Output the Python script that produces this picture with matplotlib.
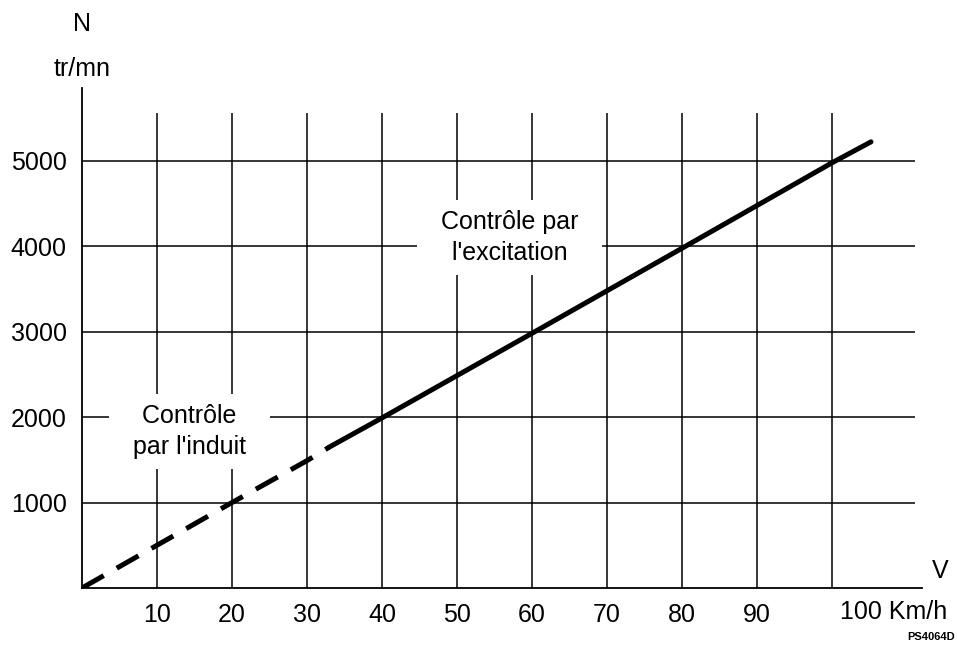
import matplotlib.pyplot as plt

plt.rcParams['font.family'] = ['Liberation Sans', 'DejaVu Sans']

# motor speed vs vehicle speed
speed_armature = [0, 20, 30, 33]                 # km/h, armature control (dashed)
rpm_armature   = [0, 1000, 1490, 1650]
speed_field    = [33, 40, 60, 80, 100, 105.2]    # km/h, field control (solid)
rpm_field      = [1650, 1990, 2980, 3975, 4975, 5220]

x_ticks  = [10, 20, 30, 40, 50, 60, 70, 80, 90]
x_grid   = [10, 20, 30, 40, 50, 60, 70, 80, 90, 100]
y_ticks  = [1000, 2000, 3000, 4000, 5000]
y_labels = ['1000', '2000', '3000', '4000', '5000']

fig = plt.figure(figsize=(9.57, 6.47), dpi=100)
ax = fig.add_axes([82 / 957, 59 / 647, 840 / 957, 500 / 647])
ax.set_xlim(0, 112)
ax.set_ylim(0, 5850)

for side in ('top', 'right'):
    ax.spines[side].set_visible(False)
for side in ('left', 'bottom'):
    ax.spines[side].set_linewidth(1.3)
    ax.spines[side].set_color('black')

# grid drawn by hand so it stops short of the axis ends
ax.vlines(x_grid, 0, 5555, color='black', lw=1.1, zorder=1)
ax.hlines(y_ticks, 0, 111, color='black', lw=1.1, zorder=1)

ax.plot(speed_armature, rpm_armature, color='black', lw=3.6,
        dashes=(5, 3), solid_capstyle='butt', dash_capstyle='butt', zorder=3)
ax.plot(speed_field, rpm_field, color='black', lw=3.6,
        solid_capstyle='round', zorder=3)

ax.set_xticks(x_ticks)
ax.set_xticklabels([str(v) for v in x_ticks])
ax.set_yticks(y_ticks)
ax.set_yticklabels(y_labels)
ax.tick_params(axis='both', length=0, labelsize=18, pad=11)

ax.annotate('100 Km/h', xy=(101, 0), xytext=(0, -24), textcoords='offset pixels',
            ha='left', va='center', fontsize=18)
ax.annotate('V', xy=(112, 0), xytext=(18, 17), textcoords='offset pixels',
            ha='center', va='center', fontsize=18)
fig.text(82 / 957, 1 - 24 / 647, 'N', ha='center', va='center', fontsize=18)
fig.text(82 / 957, 1 - 69 / 647, 'tr/mn', ha='center', va='center', fontsize=18)
fig.text(955 / 957, 1 - 637 / 647, 'PS4064D', ha='right', va='center',
         fontsize=8, fontweight='bold')

# white boxes cut the grid around the region labels
box = dict(boxstyle='square,pad=0.4', facecolor='white', edgecolor='none')
ax.text(57, 4100, "  Contrôle par  \n  l'excitation  ", ha='center', va='center',
        fontsize=18, linespacing=1.4, bbox=box, zorder=2)
ax.text(14.3, 1830, "  Contrôle  \n  par l'induit  ", ha='center', va='center',
        fontsize=18, linespacing=1.4, bbox=box, zorder=2)

fig.savefig('out.png', dpi=100)
